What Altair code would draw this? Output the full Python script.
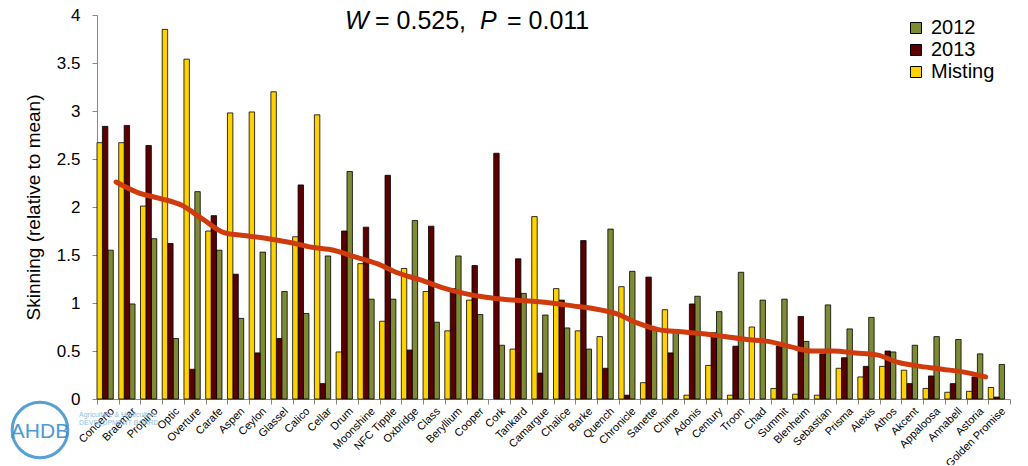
import altair as alt
import pandas as pd

varieties = ["Concerto", "Braemar", "Propino", "Optic", "Overture", "Carafe", "Aspen",
             "Ceylon", "Glassel", "Calico", "Cellar", "Drum", "Moonshine", "NFC Tipple",
             "Oxbridge", "Class", "Beryllium", "Cooper", "Cork", "Tankard", "Camargue",
             "Chalice", "Barke", "Quench", "Chronicle", "Sanette", "Chime", "Adonis",
             "Century", "Troon", "Chad", "Summit", "Blenheim", "Sebastian", "Prisma",
             "Alexis", "Athos", "Akcent", "Appaloosa", "Annabell", "Astoria", "Golden Promise"]

v2012 = [1.55, 0.99, 1.67, 0.63, 2.16, 1.55, 0.84, 1.53, 1.12, 0.89, 1.49, 2.37, 1.04, 1.04,
         1.86, 0.80, 1.49, 0.88, 0.56, 1.10, 0.875, 0.74, 0.52, 1.77, 1.33, 0.72, 0.70, 1.07,
         0.91, 1.32, 1.03, 1.04, 0.60, 0.98, 0.73, 0.85, 0.49, 0.56, 0.65, 0.62, 0.47, 0.36]

v2013 = [2.84, 2.85, 2.64, 1.62, 0.31, 1.91, 1.30, 0.48, 0.63, 2.23, 0.16, 1.75, 1.79, 2.33,
         0.51, 1.80, 1.15, 1.39, 2.56, 1.46, 0.27, 1.03, 1.65, 0.32, 0.04, 1.27, 0.48, 0.99,
         0.69, 0.55, 0.0, 0.55, 0.86, 0.47, 0.43, 0.34, 0.50, 0.16, 0.24, 0.16, 0.23, 0.02]

misting = [2.67, 2.67, 2.01, 3.85, 3.54, 1.75, 2.98, 2.99, 3.20, 1.69, 2.96, 0.49, 1.41, 0.81,
           1.36, 1.12, 0.71, 1.03, 0.0, 0.52, 1.90, 1.15, 0.71, 0.65, 1.17, 0.17, 0.93, 0.04,
           0.35, 0.04, 0.75, 0.11, 0.05, 0.04, 0.32, 0.23, 0.34, 0.30, 0.11, 0.07, 0.08, 0.12]

# trend line (Concerto .. Astoria)
trend = [2.26, 2.15, 2.09, 2.02, 1.87, 1.73, 1.70, 1.67, 1.63, 1.58, 1.55, 1.48, 1.41, 1.31,
         1.24, 1.16, 1.10, 1.06, 1.035, 1.02, 1.00, 0.97, 0.94, 0.89, 0.79, 0.72, 0.70, 0.68,
         0.65, 0.62, 0.60, 0.545, 0.50, 0.50, 0.48, 0.46, 0.38, 0.34, 0.31, 0.28, 0.23]

series_names = ["2012", "2013", "Misting"]
series_colors = ["#7F8A35", "#5A0000", "#FFD200"]
y_ticks = [0, 0.5, 1, 1.5, 2, 2.5, 3, 3.5, 4]

rows = []
for i, v in enumerate(varieties):
    for s, vals in zip(series_names, [v2012, v2013, misting]):
        rows.append({"variety": v, "series": s, "value": vals[i]})
df = pd.DataFrame(rows)
trend_df = pd.DataFrame({"variety": varieties[:len(trend)], "trend": trend})

FONT = "Liberation Sans"

xscale = alt.Scale(type="band", domain=varieties, paddingInner=0, paddingOuter=0)
x_axis = alt.Axis(title=None, labelAngle=-45, labelAlign="right", labelBaseline="top",
                  labelFontSize=11, labelFont=FONT, labelColor="black",
                  domainColor="#888888", tickColor="#888888", tickSize=5,
                  tickBand="extent", labelPadding=1, labelOverlap=False)
y_axis = alt.Axis(title="Skinning (relative to mean)", values=y_ticks, format="~g",
                  grid=False, domainColor="#888888", tickColor="#888888", tickSize=5,
                  labelFontSize=17, labelFont=FONT, labelColor="black", labelPadding=12,
                  titleFont=FONT, titleFontSize=19, titleFontWeight="normal",
                  titleColor="black", titleX=-64, titleY=192, titleBaseline="middle")

bars = alt.Chart(df).transform_filter("datum.value > 0").mark_bar(
    stroke="black", strokeWidth=0.8
).encode(
    x=alt.X("variety:N", scale=xscale, axis=x_axis, sort=varieties),
    xOffset=alt.XOffset("series:N", scale=alt.Scale(domain=["Misting", "2013", "2012", "pad"],
                                                    paddingInner=0, paddingOuter=0)),
    y=alt.Y("value:Q", scale=alt.Scale(domain=[0, 4]), axis=y_axis),
    color=alt.Color("series:N", scale=alt.Scale(domain=series_names, range=series_colors),
                    legend=alt.Legend(title=None, orient="none", legendX=809, legendY=3,
                                      symbolType="square", symbolSize=121,
                                      symbolStrokeColor="black", symbolStrokeWidth=1,
                                      labelFontSize=20, labelFont=FONT, labelColor="black",
                                      rowPadding=2, padding=0, labelOffset=5)),
)

line = alt.Chart(trend_df).mark_line(
    color="#D03B0D", strokeWidth=5, interpolate="monotone", strokeCap="round"
).encode(
    x=alt.X("variety:N", scale=xscale, sort=varieties, bandPosition=0.88),
    y=alt.Y("trend:Q"),
)

italic_parts = pd.DataFrame({"t": ["W", "P"], "px": [248, 383]})
regular_parts = pd.DataFrame({"t": ["= 0.525,", "= 0.011"], "px": [278, 410]})

ann_italic = alt.Chart(italic_parts).mark_text(
    font=FONT, fontSize=25, fontStyle="italic", align="left", baseline="alphabetic", color="black"
).encode(x=alt.X("px:Q", scale=None), y=alt.value(14), text="t:N")
ann_regular = alt.Chart(regular_parts).mark_text(
    font=FONT, fontSize=25, align="left", baseline="alphabetic", color="black"
).encode(x=alt.X("px:Q", scale=None), y=alt.value(14), text="t:N")

logo_df = pd.DataFrame({"t": ["AHDB"]})
logo_ring = alt.Chart(logo_df).mark_point(
    shape="circle", size=3100, filled=False, stroke="#3A90CE", strokeWidth=3, opacity=0.85
).encode(x=alt.value(-57), y=alt.value(415))
logo_text = alt.Chart(logo_df).mark_text(
    font=FONT, fontSize=21, color="#3A90CE", align="center", baseline="middle", opacity=0.9
).encode(x=alt.value(-57), y=alt.value(417), text="t:N")
logo_sub = alt.Chart(pd.DataFrame({"t": ["Agriculture & Horticulture", "DEVELOPMENT BOARD"],
                                   "py": [400, 408]})).mark_text(
    font=FONT, fontSize=7, color="#8FBFE0", align="left", baseline="middle"
).encode(x=alt.value(-18), y=alt.Y("py:Q", scale=None), text="t:N")

chart = alt.layer(logo_ring, logo_text, logo_sub, bars, line, ann_italic, ann_regular).properties(
    width=913, height=384,
    padding={"left": 89, "top": 7, "right": 2, "bottom": 66},
    autosize="none",
).configure_view(stroke=None)

chart.save("out.html", embed_options={"renderer": "svg", "actions": False})
